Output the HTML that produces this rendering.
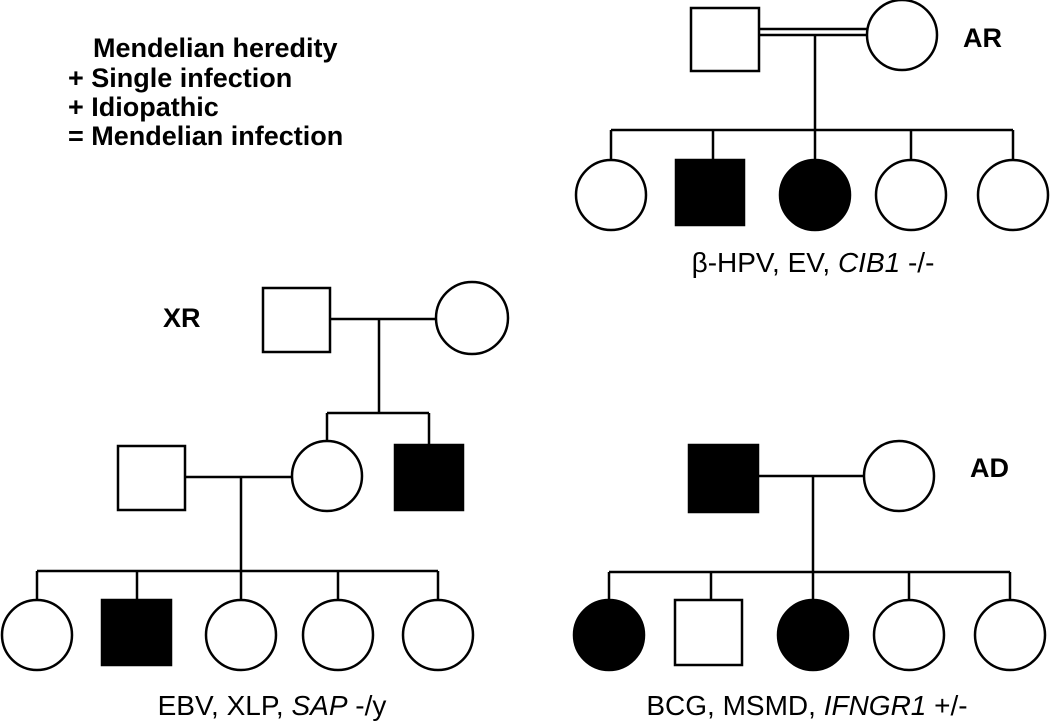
<!DOCTYPE html>
<html><head><meta charset="utf-8"><style>html,body{margin:0;padding:0;background:#fff}svg{display:block}</style></head><body>
<svg width="1050" height="723" viewBox="0 0 1050 723" xmlns="http://www.w3.org/2000/svg" font-family="Liberation Sans, Arial, sans-serif">
<g font-size="27" font-weight="bold" fill="#000">
<text x="93" y="57">Mendelian heredity</text>
<text x="68" y="87">+ Single infection</text>
<text x="68" y="116">+ Idiopathic</text>
<text x="68" y="145">= Mendelian infection</text>
<text x="963" y="47">AR</text>
<text x="163" y="327">XR</text>
<text x="970" y="477">AD</text>
</g>
<g font-size="28" fill="#000" text-anchor="middle">
<text x="813" y="272">β-HPV, EV, <tspan font-style="italic">CIB1</tspan> -/-</text>
<text x="272" y="715">EBV, XLP, <tspan font-style="italic">SAP</tspan> -/y</text>
<text x="807" y="715">BCG, MSMD, <tspan font-style="italic">IFNGR1</tspan> +/-</text>
</g>
<g stroke="#000" stroke-width="2.5" fill="none">
<rect x="691" y="8" width="68" height="63" fill="#fff"/>
<circle cx="902" cy="35" r="35" fill="#fff"/>
<line x1="759" y1="29" x2="867" y2="29"/><line x1="759" y1="35" x2="867" y2="35"/>
<line x1="815" y1="35" x2="815" y2="130"/>
<line x1="611" y1="130" x2="1013" y2="130"/>
<line x1="611" y1="130" x2="611" y2="160"/><line x1="713" y1="130" x2="713" y2="160"/><line x1="815" y1="130" x2="815" y2="160"/><line x1="911" y1="130" x2="911" y2="160"/><line x1="1013" y1="130" x2="1013" y2="160"/>
<circle cx="611" cy="195" r="35" fill="#fff"/>
<rect x="676" y="160" width="68" height="65" fill="#000"/>
<circle cx="815" cy="195" r="35" fill="#000"/>
<circle cx="911" cy="195" r="35" fill="#fff"/>
<circle cx="1013" cy="195" r="35" fill="#fff"/>
<rect x="263" y="288" width="67" height="64" fill="#fff"/>
<circle cx="472" cy="318" r="36" fill="#fff"/>
<line x1="330" y1="319" x2="436" y2="319"/>
<line x1="379" y1="319" x2="379" y2="413"/>
<line x1="327" y1="413" x2="429" y2="413"/>
<line x1="327" y1="413" x2="327" y2="443"/><line x1="429" y1="413" x2="429" y2="445"/>
<rect x="118" y="446" width="67" height="64" fill="#fff"/>
<circle cx="327" cy="476" r="35" fill="#fff"/>
<rect x="395" y="445" width="68" height="65" fill="#000"/>
<line x1="185" y1="477" x2="292" y2="477"/>
<line x1="241" y1="477" x2="241" y2="571"/>
<line x1="37" y1="571" x2="438" y2="571"/>
<line x1="37" y1="571" x2="37" y2="600"/><line x1="137" y1="571" x2="137" y2="600"/><line x1="241" y1="571" x2="241" y2="600"/><line x1="338" y1="571" x2="338" y2="600"/><line x1="438" y1="571" x2="438" y2="600"/>
<circle cx="37" cy="635" r="35" fill="#fff"/>
<rect x="102" y="600" width="69" height="65" fill="#000"/>
<circle cx="241" cy="635" r="35" fill="#fff"/>
<circle cx="338" cy="635" r="35" fill="#fff"/>
<circle cx="438" cy="635" r="35" fill="#fff"/>
<rect x="689" y="445" width="69" height="67" fill="#000"/>
<circle cx="899" cy="476" r="35" fill="#fff"/>
<line x1="758" y1="476" x2="864" y2="476"/>
<line x1="813" y1="476" x2="813" y2="572"/>
<line x1="609" y1="572" x2="1010" y2="572"/>
<line x1="609" y1="572" x2="609" y2="600"/><line x1="711" y1="572" x2="711" y2="600"/><line x1="813" y1="572" x2="813" y2="600"/><line x1="909" y1="572" x2="909" y2="600"/><line x1="1010" y1="572" x2="1010" y2="600"/>
<circle cx="609" cy="635" r="35" fill="#000"/>
<rect x="675" y="600" width="67" height="65" fill="#fff"/>
<circle cx="813" cy="635" r="35" fill="#000"/>
<circle cx="909" cy="635" r="35" fill="#fff"/>
<circle cx="1010" cy="635" r="35" fill="#fff"/>
</g>
</svg>
</body></html>
